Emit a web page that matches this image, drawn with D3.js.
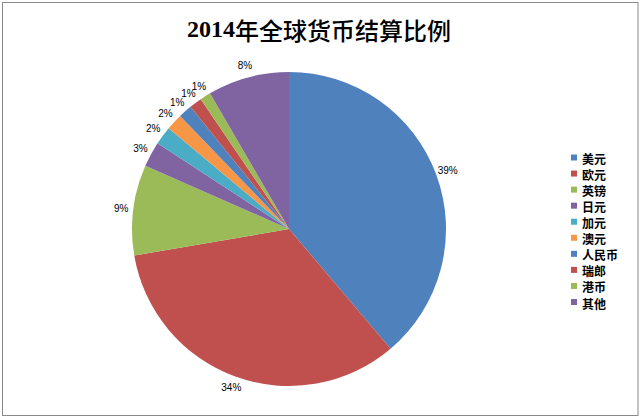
<!DOCTYPE html>
<html>
<head>
<meta charset="utf-8">
<script src="https://cdn.jsdelivr.net/npm/d3@7"></script>
<style>
  html, body { margin: 0; padding: 0; background: #fff; }
  svg { display: block; }
</style>
</head>
<body>
<div id="chart"></div>
<script>
// 2014年全球货币结算比例 (values in %)
const currencies = ['美元', '欧元', '英镑', '日元', '加元', '澳元', '人民币', '瑞郎', '港币', '其他'];
const shares = [38.8, 33.5, 9.3, 2.6, 1.9, 1.7, 1.4, 1.3, 1.1, 8.4];
const palette = ['#4F81BD', '#C0504D', '#9BBB59', '#8064A2', '#4BACC6', '#F79646',
  '#4F81BD', '#C0504D', '#9BBB59', '#8064A2'];
const titleYear = '2014';
const titleText = '年全球货币结算比例';

const attrs = (options = {}) => s =>
  Object.keys(options).forEach(key => s.attr(key, options[key]));

const width = 640;
const height = 417;
const cx = 289;
const cy = 229;
const radius = 157;
const labelRadius = 169;

const data = currencies.map((name, i) => ({ name, value: shares[i] }));

const svg = d3.select('#chart')
  .append('svg')
  .attr('width', width)
  .attr('height', height);

// chart area border
svg.append('rect')
  .call(attrs({ x: 2.5, y: 2.5, width: 635.5, height: 413, fill: '#fff', stroke: '#898989', 'stroke-width': 1 }));

const title = svg.append('text')
  .call(attrs({ x: 319, y: 29, 'text-anchor': 'middle', 'dominant-baseline': 'central' }))
  .style('font-size', '24px')
  .style('fill', '#000');
title.append('tspan')
  .style('font-family', '"Liberation Serif", serif')
  .style('font-weight', 'bold')
  .text(titleYear);
title.append('tspan')
  .style('font-family', '"Noto Sans CJK SC", sans-serif')
  .style('font-weight', 500)
  .text(titleText);

const color = d3.scaleOrdinal().domain(currencies).range(palette);
const pie = d3.pie().sort(null).value(d => d.value);
const arc = d3.arc().innerRadius(0).outerRadius(radius);
const labelArc = d3.arc().innerRadius(labelRadius).outerRadius(labelRadius);
const total = d3.sum(shares);
const pct = d => `${Math.round(d.data.value / total * 100)}%`;

const g = svg.append('g').attr('transform', `translate(${cx}, ${cy})`);
const arcs = pie(data);

g.selectAll('path.slice')
  .data(arcs)
  .join('path')
  .attr('class', 'slice')
  .attr('d', arc)
  .attr('fill', d => color(d.data.name));

g.selectAll('text.label')
  .data(arcs)
  .join('text')
  .attr('class', 'label')
  .attr('transform', d => `translate(${labelArc.centroid(d)})`)
  .attr('text-anchor', 'middle')
  .attr('dominant-baseline', 'central')
  .style('font-family', '"Liberation Sans", sans-serif')
  .style('font-size', '10px')
  .style('fill', '#000')
  .text(pct);

// legend
const legendY = d3.scalePoint().domain(currencies).range([158.5, 303]);
const legend = svg.append('g').attr('class', 'legend');
const item = legend.selectAll('g')
  .data(currencies)
  .join('g')
  .attr('transform', d => `translate(571, ${legendY(d)})`);

item.append('rect')
  .call(attrs({ x: 0, y: -4, width: 6, height: 6 }))
  .attr('fill', d => color(d));

item.append('text')
  .call(attrs({ x: 11, y: 0, 'dominant-baseline': 'central' }))
  .style('font-family', '"Noto Sans CJK SC", sans-serif')
  .style('font-size', '12px')
  .style('font-weight', 'bold')
  .style('fill', '#000')
  .text(d => d);
</script>
</body>
</html>
